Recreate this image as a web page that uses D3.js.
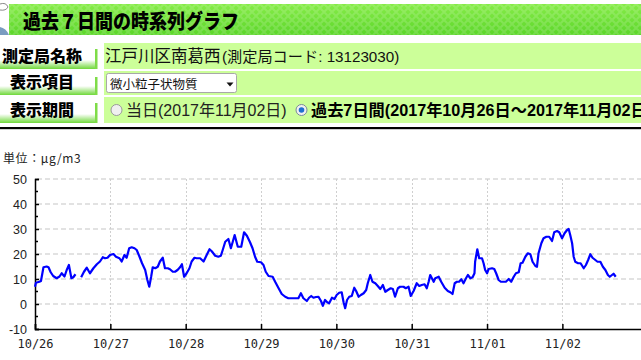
<!DOCTYPE html>
<html><head><meta charset="utf-8">
<script src="https://cdn.jsdelivr.net/npm/d3@7"></script>
<style>
body{margin:0;background:#fff;overflow:hidden}
svg{display:block}
</style></head><body><svg id="c" width="641" height="360"></svg>
<script>
// ---- text content ----
const titleText = "過去７日間の時系列グラフ";
const formLabels = ["測定局名称", "表示項目", "表示期間"];
const stationName = "江戸川区南葛西";
const stationCodeLabel = "(測定局コード: ";
const stationCode = "13123030";
const itemName = "微小粒子状物質";
const periodToday = "当日(2017年11月02日)";
const periodWeek = "過去7日間(2017年10月26日～2017年11月02日)";
const unitLabel = "単位：μg/m3";

// ---- axis ticks ----
const yTickValues = [50, 40, 30, 20, 10, 0, -10];
const yMinorTicks = [45, 35, 25, 15, 5, -5];
const dayTickLabels = ["10/26", "10/27", "10/28", "10/29", "10/30", "10/31", "11/01", "11/02"];
const startDate = "2017-10-26T00:00:00";

// ---- series: hours since 10/26 00:00 and PM2.5 values (null = missing) ----
const hours = [0,0.3,1.4,1.9,2.7,3.7,4.3,5.0,5.8,6.9,7.8,8.5,9.4,10.1,10.8,11.6,12.2,12.9,13.8,14.7,15.6,16.5,17.5,18.6,19.7,20.7,21.6,22.3,23.1,23.9,25.0,25.8,26.9,27.6,28.5,29.2,30.0,30.8,31.7,32.4,33.3,34.1,35.1,35.8,36.4,37.0,37.5,38.3,39.1,39.8,40.7,41.4,42.3,43.0,43.9,44.6,45.4,46.2,46.8,47.5,48.3,49.2,49.9,50.8,51.5,52.6,53.7,54.7,55.6,56.3,57.4,58.4,59.2,59.8,60.6,61.6,62.4,63.0,63.6,
64.6,65.7,66.6,67.5,68.5,69.3,70.1,70.8,72.0,72.8,73.5,74.4,75.7,76.5,77.6,78.6,79.7,80.7,81.8,83.4,83.9,84.7,85.5,86.6,87.3,88.0,88.7,89.5,90.3,91.1,91.7,92.4,93.1,93.7,94.6,95.4,96.1,96.9,97.7,98.3,98.8,99.4,100.1,100.9,101.7,102.3,103.1,103.8,104.7,105.5,106.0,106.8,107.5,108.4,109.2,110.0,110.8,111.6,112.4,113.3,114.0,114.7,115.6,116.3,117.4,118.1,119.0,119.7,120.6,121.6,122.4,123.2,124.1,124.8,125.4,125.9,127.0,
127.5,128.6,129.4,130.5,131.5,132.3,133.0,133.7,134.4,135.1,135.8,136.5,137.3,137.9,138.7,139.4,140.0,140.2,140.9,141.5,142.4,142.9,143.4,144.0,144.5,145.6,146.3,146.9,147.7,148.4,149.3,150.0,150.9,151.7,152.5,153.2,154.1,154.7,155.3,156.2,157.0,157.8,158.5,159.4,159.9,160.4,161.3,162.0,162.9,163.8,164.7,165.4,166.3,167.0,167.9,168.7,169.5,170.0,170.5,171.1,171.6,172.1,173.0,173.8,174.8,175.5,176.2,176.9,177.6,178.5,179.2,180.1,180.9,181.7,182.5,183.1,183.8,184.3,185.0];
const values = [6.9,8.5,8.9,9.2,14.7,15.0,14.7,12.7,11.2,10.3,11.0,12.3,11.0,13.6,15.6,10.3,10.7,11.9,null,10.7,12.9,14.5,12.3,14.3,15.9,17.0,18.7,18.3,18.5,19.6,20.0,18.9,18.3,17.0,19.6,18.5,22.3,22.7,22.3,21.6,18.9,16.3,13.6,9.6,6.9,10.9,14.7,14.3,14.9,17.0,18.5,14.3,14.3,13.9,12.9,12.9,13.6,14.7,15.9,10.9,12.3,14.3,17.0,18.5,18.3,18.3,17.0,19.6,21.9,21.1,19.3,18.9,19.3,21.6,24.9,26.0,22.3,24.9,27.6,
22.9,22.9,28.7,27.3,24.7,22.3,18.9,16.9,16.7,15.6,12.9,11.2,10.9,8.9,6.3,4.0,2.9,2.3,2.3,2.3,2.3,4.3,2.3,1.2,2.5,3.2,2.5,2.8,2.9,1.2,-0.7,1.6,0.7,0.3,2.5,2.0,3.6,4.5,4.7,0.7,-1.7,1.6,2.9,3.2,6.5,5.2,2.9,3.6,4.3,5.6,8.3,11.6,8.9,8.3,7.2,6.0,7.6,4.9,5.6,6.3,6.0,2.9,6.3,6.9,6.9,6.3,6.9,3.2,5.2,8.3,7.2,7.6,7.9,6.3,8.9,11.6,8.9,
10.3,10.9,8.9,6.5,5.2,4.7,4.0,8.3,8.9,8.9,9.9,8.3,10.3,11.6,10.3,10.7,12.3,16.9,21.9,18.3,18.3,16.3,13.6,12.3,14.0,14.3,14.0,12.3,9.6,8.9,8.9,8.9,10.0,8.9,10.9,12.3,12.7,16.3,16.5,18.9,20.3,19.9,16.9,15.2,14.9,20.3,24.3,26.3,26.9,26.9,25.2,28.7,29.2,28.7,26.3,28.3,29.6,30.0,27.6,24.3,18.9,16.9,16.3,16.3,14.3,15.6,17.6,19.9,18.5,17.6,16.9,16.9,14.9,13.6,11.6,10.9,11.6,12.1,10.9];

const CJK = "'Noto Sans CJK JP', sans-serif";
const LAT = "'Liberation Sans', 'Noto Sans CJK JP', sans-serif";

const svg = d3.select("#c");
const defs = svg.append("defs");

// ---------- header bar ----------
const hg = defs.append("linearGradient").attr("id", "hg").attr("x1", 0).attr("y1", 0).attr("x2", 0).attr("y2", 1);
hg.append("stop").attr("offset", 0).attr("stop-color", "#86ec48");
hg.append("stop").attr("offset", 1).attr("stop-color", "#5cd62a");
const pat = defs.append("pattern").attr("id", "hatch").attr("width", 8).attr("height", 8)
  .attr("patternUnits", "userSpaceOnUse");
pat.append("path").attr("d", "M0,0 L8,8 M8,0 L0,8").attr("stroke", "#ffffff").attr("stroke-opacity", 0.15).attr("stroke-width", 2);

svg.append("rect").attr("x", 9).attr("y", 4).attr("width", 640).attr("height", 31).attr("fill", "url(#hg)");
svg.append("rect").attr("x", 9).attr("y", 4).attr("width", 640).attr("height", 31).attr("fill", "url(#hatch)");
// small cut-off icon at far left
svg.append("path").attr("d", "M0,4 Q6,2 8,7 Q6,11 0,10").attr("fill", "none").attr("stroke", "#8a8a8a").attr("stroke-width", 1);
svg.append("path").attr("d", "M0,27 Q6,28 9,35 L0,35 Z").attr("fill", "#7a9cc0");

svg.append("text").attr("transform", "translate(23,28.5) scale(1,1.12)")
  .attr("font-family", CJK).attr("font-weight", 900).attr("font-size", 18)
  .attr("fill", "#000").text(titleText);

// ---------- form rows ----------
const rowTop = [43, 71, 97], rowBot = [69, 95, 123];
const lg = defs.append("linearGradient").attr("id", "lg").attr("x1", 0).attr("y1", 0).attr("x2", 0).attr("y2", 1);
lg.append("stop").attr("offset", 0).attr("stop-color", "#ffffff");
lg.append("stop").attr("offset", 1).attr("stop-color", "#6fd83a");

formLabels.forEach((t, i) => {
  svg.append("rect").attr("x", 0).attr("y", rowBot[i] - 9).attr("width", 97).attr("height", 9).attr("fill", "url(#lg)");
  svg.append("rect").attr("x", 95).attr("y", rowTop[i] + 6).attr("width", 2.5).attr("height", rowBot[i] - rowTop[i] - 6).attr("fill", "#7fdc48");
  svg.append("rect").attr("x", 104).attr("y", rowTop[i]).attr("width", 540).attr("height", rowBot[i] - rowTop[i]).attr("fill", "#ccff99");
  svg.append("text").attr("x", 42).attr("y", rowBot[i] - 7.5).attr("text-anchor", "middle")
    .attr("font-family", CJK).attr("font-weight", 900).attr("font-size", 16).attr("fill", "#000").text(t);
});

// row 1 value
svg.append("text").attr("x", 105).attr("y", 61.5).attr("font-family", CJK).attr("font-size", 16.5).attr("fill", "#111").text(stationName);
const codeText = svg.append("text").attr("x", 222).attr("y", 61.5).attr("font-family", LAT).attr("font-size", 15.2).attr("fill", "#111");
codeText.append("tspan").text(stationCodeLabel);
codeText.append("tspan").text(stationCode);
codeText.append("tspan").text(")");

// row 2 select
svg.append("rect").attr("x", 106.5).attr("y", 73.5).attr("width", 130).attr("height", 19).attr("rx", 2)
  .attr("fill", "#fff").attr("stroke", "#a8a8a8");
svg.append("text").attr("x", 110).attr("y", 88.5).attr("font-family", CJK).attr("font-size", 12.5).attr("fill", "#111").text(itemName);
svg.append("path").attr("d", "M226.5,82.5 L233.5,82.5 L230,86.5 Z").attr("fill", "#111");

// row 3 radios
svg.append("circle").attr("cx", 116.5).attr("cy", 110).attr("r", 5.5).attr("fill", "#f0f0f0").attr("stroke", "#9a9a9a");
svg.append("text").attr("x", 126).attr("y", 115.5).attr("font-family", LAT).attr("font-size", 16).attr("fill", "#222").text(periodToday);
svg.append("circle").attr("cx", 301.5).attr("cy", 110).attr("r", 5.5).attr("fill", "#f0f0f0").attr("stroke", "#7a8a9a");
svg.append("circle").attr("cx", 301.5).attr("cy", 110).attr("r", 2.8).attr("fill", "#1f6fd0");
svg.append("text").attr("x", 311).attr("y", 115.5).attr("font-family", LAT).attr("font-weight", "bold").attr("font-size", 16.2).attr("fill", "#000").text(periodWeek);

// black rule
svg.append("rect").attr("x", 0).attr("y", 127).attr("width", 641).attr("height", 2.2).attr("fill", "#000");

// ---------- chart ----------
const t0 = d3.isoParse(startDate);
const hourMs = 3600e3;
const toDate = h => new Date(t0.getTime() + h * hourMs);
const x = d3.scaleTime().domain([t0, toDate(194)]).range([35, 644]);
const y = d3.scaleLinear().domain([-10, 50]).range([329, 179]);
const dayTicks = dayTickLabels.map((d, i) => toDate(24 * i));

// horizontal dashed grid
svg.append("g").selectAll("line").data(yTickValues.filter(v => v > -10)).join("line")
  .attr("x1", 37).attr("x2", 641).attr("y1", d => y(d)).attr("y2", d => y(d))
  .attr("stroke", "#d9d9d9").attr("stroke-width", 1.3).attr("stroke-dasharray", "5,3");
// vertical dotted grid
svg.append("g").selectAll("line").data(dayTicks.slice(1)).join("line")
  .attr("x1", d => Math.round(x(d)) + 0.5).attr("x2", d => Math.round(x(d)) + 0.5)
  .attr("y1", y(50)).attr("y2", y(-10))
  .attr("stroke", "#cfcfcf").attr("stroke-width", 1).attr("stroke-dasharray", "2,2");

svg.append("text").attr("x", 3).attr("y", 163).attr("font-family", CJK).attr("font-size", 12)
  .attr("letter-spacing", 0.6).attr("fill", "#222").text(unitLabel);

// y axis
const yAxis = d3.axisLeft(y).tickValues(yTickValues).tickSize(-4).tickPadding(8).tickFormat(d3.format("d"));
const gy = svg.append("g").attr("transform", "translate(35,0)").call(yAxis);
gy.select(".domain").attr("stroke", "#000").attr("stroke-width", 1.5);
gy.selectAll(".tick line").attr("stroke", "#000").attr("stroke-width", 1.5);
gy.selectAll(".tick text").attr("font-family", LAT).attr("font-size", 12.5).attr("fill", "#222")
  .attr("x", -8).text(d => d < 0 ? "-" + Math.abs(d) : d);
svg.append("g").selectAll("line").data(yMinorTicks).join("line")
  .attr("x1", 35).attr("x2", 38).attr("y1", d => y(d)).attr("y2", d => y(d))
  .attr("stroke", "#000").attr("stroke-width", 1.5);

// x axis
const xAxis = d3.axisBottom(x).tickValues(dayTicks).tickSize(-5).tickPadding(10)
  .tickFormat((d, i) => dayTickLabels[i]);
const gx = svg.append("g").attr("transform", "translate(0,329)").call(xAxis);
gx.select(".domain").attr("stroke", "#000").attr("stroke-width", 1.5);
gx.selectAll(".tick line").attr("stroke", "#000").attr("stroke-width", 1.5);
gx.selectAll(".tick text").attr("font-family", "'DejaVu Sans Mono', monospace").attr("font-size", 12).attr("fill", "#222");

// line
const series = hours.map((h, i) => ({ t: toDate(h), v: values[i] }));
const line = d3.line().defined(d => d.v !== null).x(d => x(d.t)).y(d => y(d.v));
svg.append("path").datum(series).attr("d", line)
  .attr("fill", "none").attr("stroke", "#0000ff").attr("stroke-width", 2.2).attr("stroke-linejoin", "round");
</script></body></html>
